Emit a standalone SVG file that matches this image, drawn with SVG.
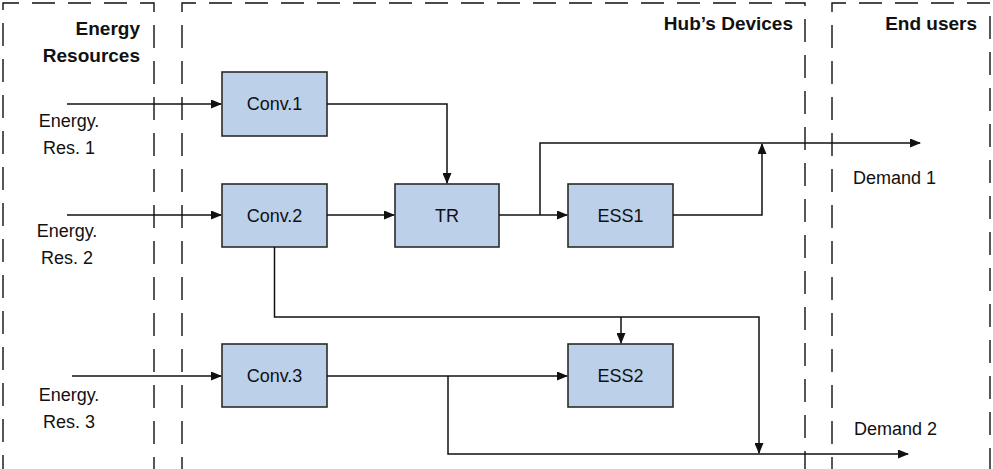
<svg xmlns="http://www.w3.org/2000/svg" width="993" height="469" viewBox="0 0 993 469">
<style>
.zone{fill:none;stroke:#111;stroke-width:1.4;stroke-dasharray:23 13}
.box{fill:#BCD0EA;stroke:#2b2b2b;stroke-width:1.6}
.lbl{font-family:"Liberation Sans",Arial,sans-serif;font-size:18px;fill:#111}
.ttl{font-family:"Liberation Sans",Arial,sans-serif;font-size:19px;font-weight:bold;fill:#111}
.c{fill:none;stroke:#111;stroke-width:1.5}
</style>
<defs>
<marker id="ah" markerUnits="userSpaceOnUse" markerWidth="11" markerHeight="9" refX="10" refY="4.5" orient="auto">
<path d="M0,0 L11,4.5 L0,9 z" fill="#111"/>
</marker>
</defs>
<rect width="993" height="469" fill="#fff"/>
<g id="zones">
<path class="zone" d="M154,480 V3 H3 V480"/>
<path class="zone" d="M182,480 V3 H805 V480"/>
<path class="zone" d="M832,480 V3 H990 V480"/>
<text class="ttl" x="140" y="35" text-anchor="end">Energy</text>
<text class="ttl" x="140" y="62" text-anchor="end">Resources</text>
<text class="ttl" x="793" y="30" text-anchor="end">Hub’s Devices</text>
<text class="ttl" x="977" y="30" text-anchor="end">End users</text>
</g>
<g id="res1"><text class="lbl" x="69" y="127" text-anchor="middle">Energy.</text><text class="lbl" x="69" y="154" text-anchor="middle">Res. 1</text></g>
<g id="res2"><text class="lbl" x="67" y="237" text-anchor="middle">Energy.</text><text class="lbl" x="67" y="264" text-anchor="middle">Res. 2</text></g>
<g id="res3"><text class="lbl" x="69" y="401" text-anchor="middle">Energy.</text><text class="lbl" x="69" y="428" text-anchor="middle">Res. 3</text></g>
<g id="conv1"><rect class="box" x="222" y="72" width="105" height="64"/><text class="lbl" x="274.5" y="110" text-anchor="middle">Conv.1</text></g>
<g id="conv2"><rect class="box" x="222" y="184" width="105" height="63"/><text class="lbl" x="274.5" y="222" text-anchor="middle">Conv.2</text></g>
<g id="conv3"><rect class="box" x="222" y="344" width="105" height="63"/><text class="lbl" x="274.5" y="382" text-anchor="middle">Conv.3</text></g>
<g id="tr"><rect class="box" x="395" y="184" width="104" height="63"/><text class="lbl" x="447" y="222" text-anchor="middle">TR</text></g>
<g id="ess1"><rect class="box" x="568" y="184" width="105" height="63"/><text class="lbl" x="620.5" y="222" text-anchor="middle">ESS1</text></g>
<g id="ess2"><rect class="box" x="568" y="344" width="105" height="63"/><text class="lbl" x="620.5" y="382" text-anchor="middle">ESS2</text></g>
<g id="demand1"><text class="lbl" x="853" y="184">Demand 1</text></g>
<g id="demand2"><text class="lbl" x="854" y="435">Demand 2</text></g>
<g id="connectors">
<path class="c" d="M67,104 H221" marker-end="url(#ah)"/>
<path class="c" d="M67,215 H221" marker-end="url(#ah)"/>
<path class="c" d="M72,376 H221" marker-end="url(#ah)"/>
<path class="c" d="M327,104 H447 V183" marker-end="url(#ah)"/>
<path class="c" d="M327,215 H394" marker-end="url(#ah)"/>
<path class="c" d="M499,215 H567" marker-end="url(#ah)"/>
<path class="c" d="M540,215 V143 H920" marker-end="url(#ah)"/>
<path class="c" d="M673,215 H762 V144" marker-end="url(#ah)"/>
<path class="c" d="M274.5,247 V317 H759 V453" marker-end="url(#ah)"/>
<path class="c" d="M621,317 V343" marker-end="url(#ah)"/>
<path class="c" d="M327,376 H567" marker-end="url(#ah)"/>
<path class="c" d="M448,376 V454 H908" marker-end="url(#ah)"/>
</g>
</svg>
